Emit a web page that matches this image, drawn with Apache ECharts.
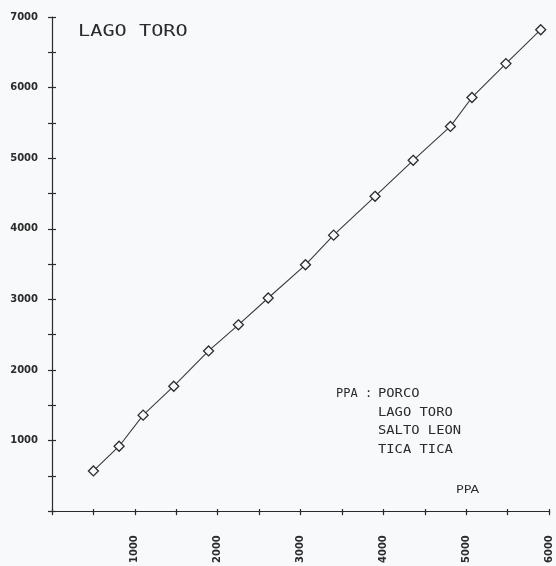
<!DOCTYPE html>
<html>
<head>
<meta charset="utf-8">
<script src="https://cdn.jsdelivr.net/npm/echarts@6/dist/echarts.min.js"></script>
<style>
html,body{margin:0;padding:0;background:#f8f9fb;}
#c{width:556px;height:566px;}
</style>
</head>
<body>
<div id="c"></div>
<script>
// PPA (x) values and LAGO TORO (y) values
const ppaValues = [500, 810, 1100, 1470, 1890, 2250, 2610, 3060, 3400, 3900, 4360, 4810, 5070, 5480, 5900];
const lagoToroValues = [570, 920, 1360, 1770, 2270, 2640, 3020, 3490, 3910, 4460, 4970, 5450, 5860, 6340, 6820];
const xTickLabels = ['1000', '2000', '3000', '4000', '5000', '6000'];
const yTickLabels = ['1000', '2000', '3000', '4000', '5000', '6000', '7000'];
const titleText = 'LAGO TORO';
const legendHead = 'PPA :';
const legendItems = ['PORCO', 'LAGO TORO', 'SALTO LEON', 'TICA TICA'];
const xAxisTitle = 'PPA';

const ink = '#2b2b2b';
const monoFont = 'DejaVu Sans Mono';
const labelFont = 'DejaVu Sans';

const gridLeft = 52, gridRight = 7, gridTop = 17, gridBottom = 53;
const W = 556, H = 566;
const plotW = W - gridLeft - gridRight;
const plotH = H - gridTop - gridBottom;

function tickStyle(len) {
  return { show: true, length: len, lineStyle: { color: ink, width: 1.2 } };
}

function makeAxis(labels, max, position, showLine, showLabel, rotate, margin, offset) {
  return {
    type: 'value',
    position: position,
    offset: offset,
    min: 0,
    max: max,
    interval: 1000,
    axisLine: { show: showLine, onZero: false, lineStyle: { color: showLine ? ink : 'rgba(0,0,0,0)', width: 1.2 } },
    axisTick: Object.assign({ inside: false }, tickStyle(4)),
    minorTick: Object.assign({ splitNumber: 2 }, tickStyle(4)),
    splitLine: { show: false },
    minorSplitLine: { show: false },
    axisLabel: !showLabel ? { show: false } : {
      show: true,
      color: ink,
      fontFamily: labelFont,
      fontSize: 10,
      fontWeight: 'bold',
      rotate: rotate,
      margin: margin,
      formatter: function (v) {
        const s = String(v);
        return labels.indexOf(s) >= 0 ? s : '';
      }
    }
  };
}

// main axes (ticks outward) + mirrored axes moved onto the same lines (ticks inward) => cross ticks
const xMain = makeAxis(xTickLabels, 6000, 'bottom', true, true, 90, 24, 0);
const xMirror = makeAxis(xTickLabels, 6000, 'top', false, false, 0, 0, -plotH);
const yMain = makeAxis(yTickLabels, 7000, 'left', true, true, 0, 14, 0);
const yMirror = makeAxis(yTickLabels, 7000, 'right', false, false, 0, 0, -plotW);

const chart = echarts.init(document.getElementById('c'), null, { renderer: 'canvas' });
const textStyle = function (t, size) {
  return { text: t, fontFamily: monoFont, fontSize: size, fill: ink };
};
const graphics = [
  { type: 'text', left: 78, top: 25, style: textStyle(titleText, 15), scaleX: 1.35 },
  { type: 'text', left: 336, top: 388, style: textStyle(legendHead, 12) }
];
legendItems.forEach(function (t, i) {
  graphics.push({ type: 'text', left: 378, top: 388 + i * 18.5, style: textStyle(t, 12), scaleX: 1.15 });
});
graphics.push({ type: 'text', left: 456, top: 485, style: { text: xAxisTitle, fontFamily: 'DejaVu Sans', fontSize: 11, fill: ink }, scaleX: 1.15 });

chart.setOption({
  backgroundColor: '#f8f9fb',
  animation: false,
  grid: { left: gridLeft, right: gridRight, top: gridTop, bottom: gridBottom, containLabel: false },
  xAxis: [xMain, xMirror],
  yAxis: [yMain, yMirror],
  graphic: graphics,
  series: [{
    type: 'line',
    xAxisIndex: 0,
    yAxisIndex: 0,
    data: ppaValues.map(function (x, i) { return [x, lagoToroValues[i]]; }),
    symbol: 'diamond',
    symbolSize: 10,
    showSymbol: true,
    lineStyle: { color: '#3a3a3a', width: 1.1 },
    itemStyle: { color: '#f8f9fb', borderColor: '#2b2b2b', borderWidth: 1.3 }
  }]
});
</script>
</body>
</html>
